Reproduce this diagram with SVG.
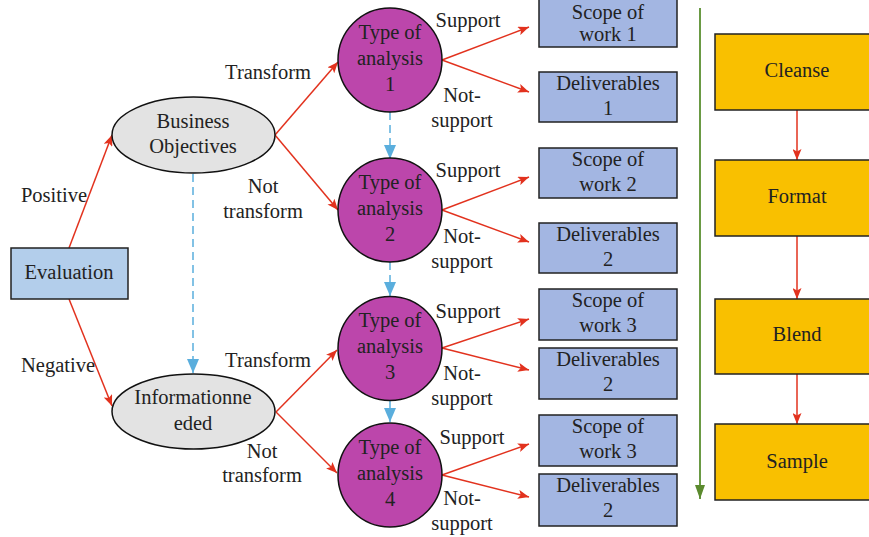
<svg xmlns="http://www.w3.org/2000/svg" width="869" height="537" viewBox="0 0 869 537">
<defs>
<marker id="ar" markerUnits="userSpaceOnUse" markerWidth="11" markerHeight="9" refX="11" refY="4.5" orient="auto"><path d="M0,0 L11,4.5 L0,9 L2.5,4.5 z" fill="#E2321E"/></marker>
<marker id="ab" markerUnits="userSpaceOnUse" markerWidth="14" markerHeight="12" refX="14" refY="6" orient="auto"><path d="M0,0 L14,6 L0,12 z" fill="#5AAEDD"/></marker>
<marker id="ag" markerUnits="userSpaceOnUse" markerWidth="14" markerHeight="10" refX="14" refY="5" orient="auto"><path d="M0,0 L14,5 L0,10 z" fill="#5B8A2E"/></marker>
</defs>
<style>
text{font-family:"Liberation Serif","DejaVu Serif",serif;font-size:20.5px;fill:#222;text-anchor:middle}
.r{stroke:#E2321E;stroke-width:1.5;fill:none;marker-end:url(#ar)}
.b{stroke:#5AAEDD;stroke-width:1.5;fill:none;stroke-dasharray:8 5;marker-end:url(#ab)}
.g{stroke:#6A9A44;stroke-width:2;fill:none;marker-end:url(#ag)}
.ev{fill:#B3CEEB;stroke:#222;stroke-width:1.5}
.el{fill:#E3E3E3;stroke:#111;stroke-width:1.5}
.ci{fill:#BC46AB;stroke:#111;stroke-width:1.5}
.bx{fill:#A3B6E2;stroke:#222;stroke-width:1.5}
.or{fill:#F9C000;stroke:#222;stroke-width:1.5}
</style>
<rect width="869" height="537" fill="#fff"/>
<g id="connectors">
<line class="r" x1="69" y1="248" x2="112" y2="135"/>
<line class="r" x1="69" y1="299" x2="112" y2="406"/>
<line class="r" x1="275" y1="135" x2="338" y2="62"/>
<line class="r" x1="275" y1="135" x2="338" y2="210"/>
<line class="r" x1="276" y1="412" x2="337" y2="350"/>
<line class="r" x1="276" y1="412" x2="337" y2="473"/>
<line class="r" x1="442" y1="60" x2="529" y2="27"/>
<line class="r" x1="442" y1="60" x2="529" y2="92"/>
<line class="r" x1="442" y1="210" x2="529" y2="177"/>
<line class="r" x1="442" y1="210" x2="529" y2="242"/>
<line class="r" x1="442" y1="348" x2="529" y2="319"/>
<line class="r" x1="442" y1="348" x2="529" y2="370"/>
<line class="r" x1="442" y1="475" x2="529" y2="444"/>
<line class="r" x1="442" y1="475" x2="529" y2="497"/>
<line class="r" x1="797" y1="110" x2="797" y2="160"/>
<line class="r" x1="797" y1="236" x2="797" y2="299"/>
<line class="r" x1="797" y1="374" x2="797" y2="424"/>
<line class="b" x1="193" y1="174" x2="193" y2="373"/>
<line class="b" x1="390" y1="112" x2="390" y2="159"/>
<line class="b" x1="390" y1="262" x2="390" y2="296"/>
<line class="b" x1="390" y1="401" x2="390" y2="422"/>
<line class="g" x1="700" y1="8" x2="700" y2="499"/>
<text x="54" y="202">Positive</text>
<text x="58" y="372">Negative</text>
<text x="268" y="79">Transform</text>
<text x="263" y="193">Not</text>
<text x="263" y="218">transform</text>
<text x="268" y="367">Transform</text>
<text x="262" y="458">Not</text>
<text x="262" y="482">transform</text>
<text x="468" y="27">Support</text>
<text x="462" y="102">Not-</text>
<text x="462" y="127">support</text>
<text x="468" y="177">Support</text>
<text x="462" y="243">Not-</text>
<text x="462" y="268">support</text>
<text x="468" y="318">Support</text>
<text x="462" y="380">Not-</text>
<text x="462" y="405">support</text>
<text x="472" y="444">Support</text>
<text x="462" y="505">Not-</text>
<text x="462" y="530">support</text>
</g>
<g id="evaluation"><rect class="ev" x="11" y="248" width="117" height="51"/><text x="69" y="279">Evaluation</text></g>
<g id="business"><ellipse class="el" cx="193.5" cy="135" rx="81.5" ry="38"/><text x="193" y="128">Business</text><text x="193" y="153">Objectives</text></g>
<g id="information"><ellipse class="el" cx="193.5" cy="411.5" rx="81.5" ry="37.5"/><text x="193" y="404">Informationne</text><text x="193" y="430">eded</text></g>
<g id="toa1"><circle class="ci" cx="390" cy="60" r="52"/><text x="390" y="39">Type of</text><text x="390" y="65">analysis</text><text x="390" y="91">1</text></g>
<g id="toa2"><circle class="ci" cx="390" cy="210" r="52"/><text x="390" y="189">Type of</text><text x="390" y="215">analysis</text><text x="390" y="241">2</text></g>
<g id="toa3"><circle class="ci" cx="390" cy="348.5" r="52"/><text x="390" y="327">Type of</text><text x="390" y="353">analysis</text><text x="390" y="379">3</text></g>
<g id="toa4"><circle class="ci" cx="390" cy="475" r="52"/><text x="390" y="454">Type of</text><text x="390" y="480">analysis</text><text x="390" y="506">4</text></g>
<g id="scope1"><rect class="bx" x="539" y="-3" width="138" height="50"/><text x="608" y="19">Scope of</text><text x="608" y="41">work 1</text></g>
<g id="deliv1"><rect class="bx" x="539" y="72" width="138" height="50"/><text x="608" y="90">Deliverables</text><text x="608" y="115">1</text></g>
<g id="scope2"><rect class="bx" x="539" y="148" width="138" height="50"/><text x="608" y="166">Scope of</text><text x="608" y="191">work 2</text></g>
<g id="deliv2"><rect class="bx" x="539" y="223" width="138" height="50"/><text x="608" y="241">Deliverables</text><text x="608" y="266">2</text></g>
<g id="scope3"><rect class="bx" x="539" y="289" width="138" height="51"/><text x="608" y="307">Scope of</text><text x="608" y="332">work 3</text></g>
<g id="deliv3"><rect class="bx" x="539" y="348" width="138" height="51"/><text x="608" y="366">Deliverables</text><text x="608" y="391">2</text></g>
<g id="scope4"><rect class="bx" x="539" y="415" width="138" height="51"/><text x="608" y="433">Scope of</text><text x="608" y="458">work 3</text></g>
<g id="deliv4"><rect class="bx" x="539" y="474" width="138" height="52"/><text x="608" y="492">Deliverables</text><text x="608" y="517">2</text></g>
<g id="cleanse"><rect class="or" x="715" y="34" width="164" height="76"/><text x="797" y="77">Cleanse</text></g>
<g id="format"><rect class="or" x="715" y="160" width="164" height="76"/><text x="797" y="203">Format</text></g>
<g id="blend"><rect class="or" x="715" y="299" width="164" height="75"/><text x="797" y="341">Blend</text></g>
<g id="sample"><rect class="or" x="715" y="424" width="164" height="76"/><text x="797" y="468">Sample</text></g>
</svg>
